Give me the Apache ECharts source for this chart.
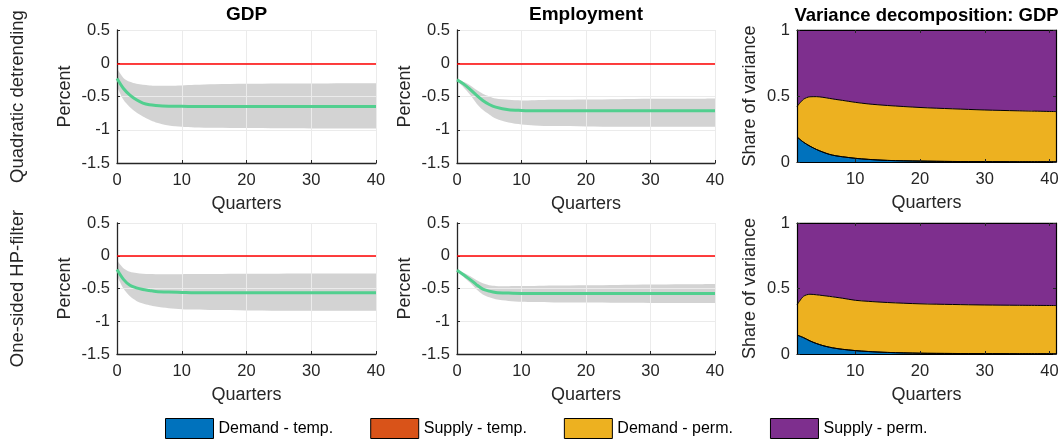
<!DOCTYPE html>
<html>
<head>
<meta charset="utf-8">
<script src="https://cdn.jsdelivr.net/npm/echarts@6/dist/echarts.min.js"></script>
<style>
  html, body { margin: 0; padding: 0; background: #ffffff; }
  #chart { width: 1064px; height: 446px; }
</style>
</head>
<body>
<div id="chart"></div>
<script>
// ---- Impulse responses (percent), by quarter after the shock ----
const irfQuarters = [0, 1, 2, 3, 4, 5, 6, 8, 10, 12, 15, 20, 25, 30, 35, 40];
const irfXTicks = [0, 10, 20, 30, 40];

// Quadratic detrending: GDP
const gdpQuadMean = [-0.23, -0.38, -0.48, -0.55, -0.60, -0.625, -0.635, -0.645, -0.648, -0.65, -0.65, -0.65, -0.65, -0.65, -0.65, -0.65];
const gdpQuadHigh = [-0.08, -0.22, -0.28, -0.31, -0.325, -0.335, -0.34, -0.34, -0.335, -0.325, -0.315, -0.31, -0.305, -0.305, -0.30, -0.30];
const gdpQuadLow  = [-0.35, -0.55, -0.66, -0.74, -0.80, -0.85, -0.89, -0.935, -0.955, -0.965, -0.97, -0.975, -0.978, -0.98, -0.98, -0.98];
// Quadratic detrending: Employment
const empQuadMean = [-0.25, -0.31, -0.39, -0.48, -0.56, -0.62, -0.66, -0.70, -0.71, -0.715, -0.715, -0.715, -0.715, -0.715, -0.715, -0.715];
const empQuadHigh = [-0.25, -0.28, -0.33, -0.40, -0.46, -0.50, -0.53, -0.55, -0.56, -0.555, -0.55, -0.545, -0.54, -0.535, -0.535, -0.53];
const empQuadLow  = [-0.26, -0.36, -0.47, -0.60, -0.70, -0.77, -0.83, -0.89, -0.92, -0.935, -0.945, -0.95, -0.955, -0.955, -0.955, -0.955];
// One-sided HP-filter: GDP
const gdpHpMean = [-0.21, -0.36, -0.45, -0.49, -0.515, -0.53, -0.545, -0.555, -0.56, -0.565, -0.565, -0.565, -0.565, -0.565, -0.565, -0.565];
const gdpHpHigh = [-0.07, -0.19, -0.245, -0.265, -0.275, -0.28, -0.282, -0.283, -0.282, -0.28, -0.278, -0.275, -0.273, -0.272, -0.27, -0.27];
const gdpHpLow  = [-0.30, -0.50, -0.62, -0.69, -0.73, -0.755, -0.775, -0.80, -0.815, -0.822, -0.83, -0.835, -0.838, -0.84, -0.84, -0.84];
// One-sided HP-filter: Employment
const empHpMean = [-0.22, -0.29, -0.36, -0.44, -0.51, -0.54, -0.56, -0.57, -0.575, -0.575, -0.575, -0.575, -0.575, -0.575, -0.575, -0.575];
const empHpHigh = [-0.22, -0.26, -0.31, -0.37, -0.42, -0.45, -0.46, -0.465, -0.463, -0.46, -0.455, -0.45, -0.445, -0.44, -0.435, -0.43];
const empHpLow  = [-0.23, -0.32, -0.41, -0.51, -0.59, -0.635, -0.665, -0.69, -0.702, -0.707, -0.712, -0.715, -0.718, -0.72, -0.72, -0.72];

// ---- Forecast error variance decomposition of GDP (shares) ----
const vdQuarters = [1, 2, 3, 4, 5, 6, 7, 8, 10, 12, 15, 20, 25, 30, 35, 41];
const vdXTicks = [10, 20, 30, 40];
const shockNames = ['Demand - temp.', 'Supply - temp.', 'Demand - perm.', 'Supply - perm.'];

const vdQuadDemandTemp = [0.19, 0.15, 0.12, 0.095, 0.075, 0.058, 0.047, 0.04, 0.028, 0.02, 0.012, 0.007, 0.004, 0.003, 0.002, 0.002];
const vdQuadSupplyTemp = [0, 0, 0, 0, 0, 0, 0, 0, 0, 0, 0, 0, 0, 0, 0, 0];
const vdQuadDemandPerm = [0.23, 0.325, 0.374, 0.40, 0.415, 0.424, 0.427, 0.427, 0.424, 0.42, 0.416, 0.406, 0.399, 0.391, 0.386, 0.38];
const vdQuadSupplyPerm = [0.58, 0.525, 0.506, 0.505, 0.51, 0.518, 0.526, 0.533, 0.548, 0.56, 0.572, 0.587, 0.597, 0.606, 0.612, 0.618];

const vdHpDemandTemp = [0.145, 0.125, 0.10, 0.08, 0.064, 0.052, 0.043, 0.036, 0.026, 0.019, 0.012, 0.006, 0.004, 0.003, 0.002, 0.002];
const vdHpSupplyTemp = [0, 0, 0, 0, 0, 0, 0, 0, 0, 0, 0, 0, 0, 0, 0, 0];
const vdHpDemandPerm = [0.23, 0.315, 0.356, 0.372, 0.382, 0.388, 0.39, 0.39, 0.384, 0.383, 0.381, 0.377, 0.374, 0.371, 0.37, 0.368];
const vdHpSupplyPerm = [0.625, 0.56, 0.544, 0.548, 0.554, 0.56, 0.567, 0.574, 0.59, 0.598, 0.607, 0.617, 0.622, 0.626, 0.628, 0.63];

// ---- Styling ----
const FONT = '"Liberation Sans", Arial, Helvetica, sans-serif';
const INK = '#262626';
const GRID_LINE = '#ebebeb';
const BAND = 'rgba(128,128,128,0.35)';
const MEAN = '#52cf8f';
const ZERO = '#ff0000';
const SHOCK_COLORS = ['#0072bd', '#d95319', '#edb120', '#7e2f8e'];

// Rows are stored as [value, quarter] so that stacking acts on the value
// dimension (the first one); `encode` maps them back onto x and y.
const rows = (xs, ys) => xs.map((x, i) => [ys[i], x]);
const ENCODE = { x: 1, y: 0 };

const grids = [
  { left: 117, top: 30, width: 259, height: 133 },
  { left: 457, top: 30, width: 258, height: 133 },
  { left: 797, top: 30, width: 259, height: 132 },
  { left: 117, top: 223, width: 259, height: 131 },
  { left: 457, top: 223, width: 258, height: 131 },
  { left: 797, top: 223, width: 259, height: 131 }
];

const axisNameStyle = { fontSize: 18, color: INK, fontFamily: FONT };
const tickLabelStyle = { fontSize: 16.5, color: INK, fontFamily: FONT };

function irfXAxis(gridIndex) {
  return {
    type: 'value', gridIndex, min: irfXTicks[0], max: irfXTicks[irfXTicks.length - 1], interval: 10, z: 1,
    name: 'Quarters', nameLocation: 'middle', nameGap: 32, nameTextStyle: axisNameStyle,
    axisLine: { show: true, onZero: false, lineStyle: { color: INK, width: 1.3 } },
    axisTick: { show: true, inside: true, length: 3, lineStyle: { color: INK, width: 1 } },
    axisLabel: Object.assign({ margin: 9 }, tickLabelStyle),
    splitLine: { show: true, lineStyle: { color: GRID_LINE, width: 1 } }
  };
}
function irfYAxis(gridIndex) {
  return {
    type: 'value', gridIndex, min: -1.5, max: 0.5, interval: 0.5, z: 1,
    name: 'Percent', nameLocation: 'middle', nameGap: 43, nameTextStyle: axisNameStyle,
    axisLine: { show: true, onZero: false, lineStyle: { color: INK, width: 1.3 } },
    axisTick: { show: true, inside: true, length: 3, lineStyle: { color: INK, width: 1 } },
    axisLabel: Object.assign({ margin: 7 }, tickLabelStyle),
    splitLine: { show: true, lineStyle: { color: GRID_LINE, width: 1 } }
  };
}
function vdXAxis(gridIndex, position) {
  const bottom = position === 'bottom';
  return {
    type: 'value', gridIndex, position, min: vdQuarters[0], max: vdQuarters[vdQuarters.length - 1], z: 10,
    name: bottom ? 'Quarters' : '', nameLocation: 'middle', nameGap: 32, nameTextStyle: axisNameStyle,
    axisLine: { show: true, onZero: false, lineStyle: { color: '#000', width: 1.2 } },
    axisTick: { show: true, inside: true, length: 3, customValues: vdXTicks, lineStyle: { color: INK, width: 1 } },
    axisLabel: Object.assign({ show: bottom, margin: 9, customValues: vdXTicks }, tickLabelStyle),
    splitLine: { show: false }
  };
}
function vdYAxis(gridIndex, position) {
  const left = position === 'left';
  return {
    type: 'value', gridIndex, position, min: 0, max: 1, interval: 0.5, z: 10,
    name: left ? 'Share of variance' : '', nameLocation: 'middle', nameGap: 38, nameTextStyle: axisNameStyle,
    axisLine: { show: true, onZero: false, lineStyle: { color: '#000', width: 1.2 } },
    axisTick: { show: true, inside: true, length: 3, lineStyle: { color: INK, width: 1 } },
    axisLabel: Object.assign({ show: left, margin: 7 }, tickLabelStyle),
    splitLine: { show: false }
  };
}

// IRF panels: axis index i lives in the listed grid
const irfPanels = [
  { grid: 0, mean: gdpQuadMean, high: gdpQuadHigh, low: gdpQuadLow },
  { grid: 1, mean: empQuadMean, high: empQuadHigh, low: empQuadLow },
  { grid: 3, mean: gdpHpMean, high: gdpHpHigh, low: gdpHpLow },
  { grid: 4, mean: empHpMean, high: empHpHigh, low: empHpLow }
];
const vdPanels = [
  { grid: 2, shares: [vdQuadDemandTemp, vdQuadSupplyTemp, vdQuadDemandPerm, vdQuadSupplyPerm] },
  { grid: 5, shares: [vdHpDemandTemp, vdHpSupplyTemp, vdHpDemandPerm, vdHpSupplyPerm] }
];

const xAxes = [], yAxes = [], series = [];

irfPanels.forEach((p, i) => {
  xAxes.push(irfXAxis(p.grid));
  yAxes.push(irfYAxis(p.grid));
  const stack = 'band' + i;
  // lower edge of the confidence band (invisible base)
  series.push({
    type: 'line', xAxisIndex: i, yAxisIndex: i, stack, stackStrategy: 'all', encode: ENCODE,
    data: rows(irfQuarters, p.low), symbol: 'none', smooth: 0.3, silent: true, z: 0,
    lineStyle: { width: 0, opacity: 0 }
  });
  // band thickness stacked on the lower edge
  series.push({
    type: 'line', xAxisIndex: i, yAxisIndex: i, stack, stackStrategy: 'all', encode: ENCODE,
    data: rows(irfQuarters, p.high.map((h, k) => h - p.low[k])), symbol: 'none', smooth: 0.3, silent: true, z: 0,
    lineStyle: { width: 0, opacity: 0 },
    areaStyle: { color: BAND, opacity: 1 }
  });
  // point estimate, with the zero reference line
  series.push({
    type: 'line', xAxisIndex: i, yAxisIndex: i, encode: ENCODE,
    data: rows(irfQuarters, p.mean), symbol: 'none', smooth: 0.3, silent: true, z: 4,
    lineStyle: { color: MEAN, width: 3 },
    markLine: {
      silent: true, symbol: 'none', animation: false,
      label: { show: false },
      lineStyle: { color: ZERO, width: 1.5, type: 'solid' },
      data: [{ yAxis: 0 }]
    }
  });
});

vdPanels.forEach((p, j) => {
  const xi = xAxes.length, yi = yAxes.length;
  xAxes.push(vdXAxis(p.grid, 'bottom'), vdXAxis(p.grid, 'top'));
  yAxes.push(vdYAxis(p.grid, 'left'), vdYAxis(p.grid, 'right'));
  shockNames.forEach((name, s) => {
    series.push({
      type: 'line', name, xAxisIndex: xi, yAxisIndex: yi, stack: 'vd' + j, encode: ENCODE,
      data: rows(vdQuarters, p.shares[s]), symbol: 'none', smooth: 0.3, silent: true, z: 2,
      lineStyle: { color: '#000', width: 1 },
      itemStyle: { color: SHOCK_COLORS[s] },
      areaStyle: { color: SHOCK_COLORS[s], opacity: 1 }
    });
  });
});

const textEl = (text, x, y, size, weight, rotation) => ({
  type: 'text', x, y, rotation: rotation || 0, silent: true,
  style: {
    text, font: `${weight} ${size}px ${FONT}`, fill: weight === 'bold' ? '#000' : INK,
    align: 'center', verticalAlign: 'middle', textAlign: 'center', textVerticalAlign: 'middle'
  }
});

const option = {
  animation: false,
  backgroundColor: '#ffffff',
  grid: grids,
  xAxis: xAxes,
  yAxis: yAxes,
  series,
  legend: {
    data: shockNames, left: 160, top: 413, icon: 'rect',
    itemWidth: 48, itemHeight: 20, itemGap: 37, selectedMode: false,
    itemStyle: { borderColor: '#000', borderWidth: 1 },
    textStyle: { fontSize: 16, color: '#000', fontFamily: FONT }
  },
  graphic: [
    textEl('GDP', 246.5, 15, 19, 'bold'),
    textEl('Employment', 586, 15, 19, 'bold'),
    textEl('Variance decomposition: GDP', 926.5, 16, 18.5, 'bold'),
    textEl('Quadratic detrending', 18, 96.5, 18.5, 'normal', Math.PI / 2),
    textEl('One-sided HP-filter', 18, 288.5, 18.5, 'normal', Math.PI / 2)
  ]
};

const chart = echarts.init(document.getElementById('chart'), null, { renderer: 'canvas' });
chart.setOption(option);
</script>
</body>
</html>
